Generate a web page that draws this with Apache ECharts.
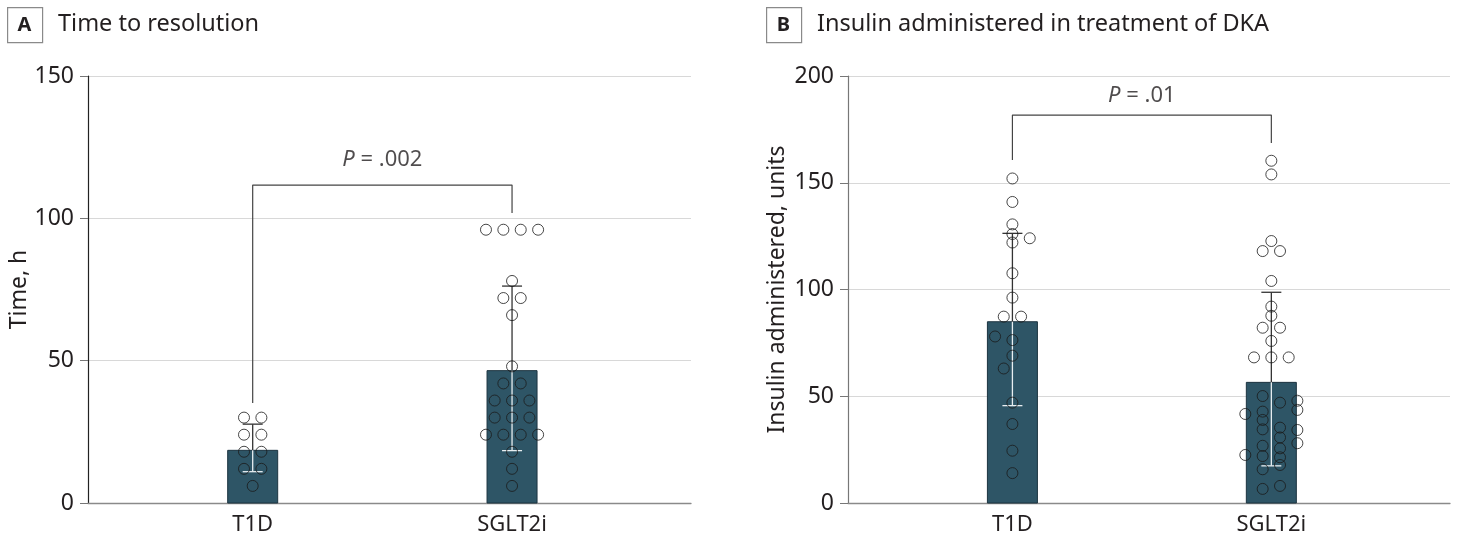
<!DOCTYPE html>
<html>
<head>
<meta charset="utf-8">
<script src="https://cdn.jsdelivr.net/npm/echarts@6/dist/echarts.min.js"></script>
<style>
  html, body { margin: 0; padding: 0; background: #fff; }
  #chart { width: 1457px; height: 544px; }
</style>
</head>
<body>
<div id="chart"></div>
<script>
// ---------- DATA ----------
const categories = ['T1D', 'SGLT2i'];

// Panel A: time to resolution (h)
const timeBarMean = [18.5, 46.5];
const timeErrLow = [11.0, 18.4];
const timeErrHigh = [27.7, 76.2];
// points: [value, swarm slot]
const timeT1D = [[30,-1],[30,1],[24,-1],[24,1],[18,-1],[18,1],[12,-1],[12,1],[6,0]];
const timeSGLT2i = [[96,-3],[96,-1],[96,1],[96,3],[78,0],[72,-1],[72,1],[66,0],[48,0],
  [42,-1],[42,1],[36,-2],[36,0],[36,2],[30,-2],[30,0],[30,2],[24,-3],[24,-1],[24,1],[24,3],
  [18,0],[12,0],[6,0]];
const timeBracket = { left: 35.1, top: 111.7, right: 101.9, label: 120.5, p: '.002' };

// Panel B: insulin administered (units)
const insBarMean = [84.9, 56.5];
const insErrLow = [45.6, 17.4];
const insErrHigh = [126.3, 98.7];
const insT1D = [[152,0],[141,0],[130.5,0],[126,0],[124,2],[122,0],[107.6,0],[96.2,0],
  [87.3,-1],[87.3,1],[78,-2],[76.3,0],[69,0],[63,-1],[47,0],[37,0],[24.5,0],[14,0]];
const insSGLT2i = [[160.3,0],[153.9,0],[122.7,0],[118,-1],[118,1],[104,0],[92,0],[87.7,0],
  [82.1,-1],[82.1,1],[75.9,0],[68.2,-2],[68.2,0],[68.2,2],
  [50.1,-1],[47,1],[47.9,3],[43.6,3],[41.7,-3],[42.8,-1],[38.9,-1],[34.5,-1],[35.3,1],[34.2,3],
  [30.7,1],[28,3],[26.8,-1],[25.6,1],[22.5,-3],[22,-1],[21.4,1],[17.8,1],[15.8,-1],[8,1],[6.6,-1]];
const insBracket = { left: 160.6, top: 181.7, right: 168.6, label: 190.6, p: '.01' };

const yTicksA = { min: 0, max: 150, interval: 50 };
const yTicksB = { min: 0, max: 200, interval: 50 };

// ---------- CHART ----------
const FONT = '"Noto Sans", "Open Sans", sans-serif';
const TXT = '#231f20';
const SLOT = 0.0335;
const chart = echarts.init(document.getElementById('chart'), null, { renderer: 'canvas' });

function barData(mean, lo, hi) {
  return mean.map((m, i) => [i, m, lo[i], hi[i]]);
}
function dotData(pts, cat) {
  return pts.map(p => [cat + p[1] * SLOT, p[0]]);
}
function renderBar(params, api) {
  const x = api.value(0), m = api.value(1), lo = api.value(2), hi = api.value(3);
  const p0 = api.coord([x, 0]);
  const pm = api.coord([x, m]);
  const plo = api.coord([x, lo]);
  const phi = api.coord([x, hi]);
  const cx = p0[0];
  return {
    type: 'group',
    children: [
      { type: 'rect', shape: { x: cx - 25, y: pm[1], width: 50, height: p0[1] - pm[1] },
        style: { fill: '#2e5566', stroke: '#1c3440', lineWidth: 1 } },
      { type: 'line', shape: { x1: cx, y1: phi[1], x2: cx, y2: pm[1] },
        style: { stroke: '#333', lineWidth: 1.3 } },
      { type: 'line', shape: { x1: cx - 10, y1: phi[1], x2: cx + 10, y2: phi[1] },
        style: { stroke: '#333', lineWidth: 1.3 } },
      { type: 'line', shape: { x1: cx, y1: pm[1], x2: cx, y2: plo[1] },
        style: { stroke: '#e8eef1', lineWidth: 1.3 } },
      { type: 'line', shape: { x1: cx - 10, y1: plo[1], x2: cx + 10, y2: plo[1] },
        style: { stroke: '#e8eef1', lineWidth: 1.3 } }
    ]
  };
}
function bracketData(b) {
  return [[0, b.left], [0, b.top], [1, b.top], [1, b.right]];
}

function xAxis(idx) {
  return {
    type: 'value', gridIndex: idx, min: -0.635, max: 1.69,
    splitLine: { show: false }, axisTick: { show: false },
    axisLine: { show: true, onZero: false, lineStyle: { color: '#8a8a8a', width: 1.3 } },
    axisLabel: {
      customValues: [0, 1],
      formatter: v => categories[Math.round(v)] || '',
      fontSize: 22, color: TXT, fontFamily: FONT, margin: 11
    }
  };
}
function yAxis(idx, t, name, gap, lineColor) {
  return {
    type: 'value', gridIndex: idx, min: t.min, max: t.max, interval: t.interval,
    name: name, nameLocation: 'middle', nameGap: gap,
    nameTextStyle: { fontSize: 23, color: TXT, fontFamily: FONT },
    axisLine: { show: true, onZero: false, lineStyle: { color: lineColor, width: 1.2 } },
    axisTick: { show: true, length: 8, lineStyle: { color: '#777' } },
    axisLabel: { fontSize: 23, color: TXT, fontFamily: FONT, margin: 14 },
    splitLine: { show: true, lineStyle: { color: '#d8d8d8', width: 1.2 } }
  };
}
function dotSeries(idx, pts, cat) {
  return {
    type: 'scatter', xAxisIndex: idx, yAxisIndex: idx, data: dotData(pts, cat),
    symbol: 'circle', symbolSize: 11, z: 5, silent: true,
    itemStyle: { color: 'rgba(0,0,0,0)', borderColor: '#1a1a1a', borderWidth: 1 }
  };
}
function bracketSeries(idx, b) {
  return [
    { type: 'line', xAxisIndex: idx, yAxisIndex: idx, data: bracketData(b),
      symbol: 'none', lineStyle: { color: '#444', width: 1.2 }, z: 4, silent: true },
    { type: 'scatter', xAxisIndex: idx, yAxisIndex: idx, data: [[0.5, b.label]],
      symbolSize: 0, silent: true, z: 6,
      label: { show: true, position: 'inside',
        formatter: '{i|P} = ' + b.p,
        fontSize: 22, color: TXT, fontFamily: FONT,
        rich: { i: { fontStyle: 'italic', fontSize: 22, color: TXT, fontFamily: FONT } } } }
  ];
}

const option = {
  animation: false,
  backgroundColor: '#fff',
  grid: [
    { left: 88, top: 76, width: 603, bottom: 41, containLabel: false, outerBoundsMode: 'none' },
    { left: 848, top: 76, width: 602, bottom: 41, containLabel: false, outerBoundsMode: 'none' }
  ],
  xAxis: [xAxis(0), xAxis(1)],
  yAxis: [
    yAxis(0, yTicksA, 'Time, h', 56, '#222'),
    yAxis(1, yTicksB, 'Insulin administered, units', 59, '#777')
  ],
  graphic: [
    { type: 'rect', left: 7, top: 7, shape: { width: 35, height: 35 },
      style: { fill: '#fff', stroke: '#8a8a8a', lineWidth: 1.2 } },
    { type: 'text', x: 24.5, y: 25, style: { text: 'A', font: 'bold 20px ' + FONT, fill: TXT, textAlign: 'center', textVerticalAlign: 'middle' } },
    { type: 'text', x: 58, y: 24, style: { text: 'Time to resolution', font: '23.5px ' + FONT, fill: TXT, textVerticalAlign: 'middle' } },
    { type: 'rect', left: 766, top: 7, shape: { width: 35, height: 35 },
      style: { fill: '#fff', stroke: '#8a8a8a', lineWidth: 1.2 } },
    { type: 'text', x: 783.5, y: 25, style: { text: 'B', font: 'bold 20px ' + FONT, fill: TXT, textAlign: 'center', textVerticalAlign: 'middle' } },
    { type: 'text', x: 817, y: 24, style: { text: 'Insulin administered in treatment of DKA', font: '23.5px ' + FONT, fill: TXT, textVerticalAlign: 'middle' } }
  ],
  series: [
    { type: 'custom', xAxisIndex: 0, yAxisIndex: 0, renderItem: renderBar,
      data: barData(timeBarMean, timeErrLow, timeErrHigh), z: 3, silent: true },
    { type: 'custom', xAxisIndex: 1, yAxisIndex: 1, renderItem: renderBar,
      data: barData(insBarMean, insErrLow, insErrHigh), z: 3, silent: true },
    dotSeries(0, timeT1D, 0),
    dotSeries(0, timeSGLT2i, 1),
    dotSeries(1, insT1D, 0),
    dotSeries(1, insSGLT2i, 1),
    ...bracketSeries(0, timeBracket),
    ...bracketSeries(1, insBracket)
  ]
};
chart.setOption(option);
</script>
</body>
</html>
